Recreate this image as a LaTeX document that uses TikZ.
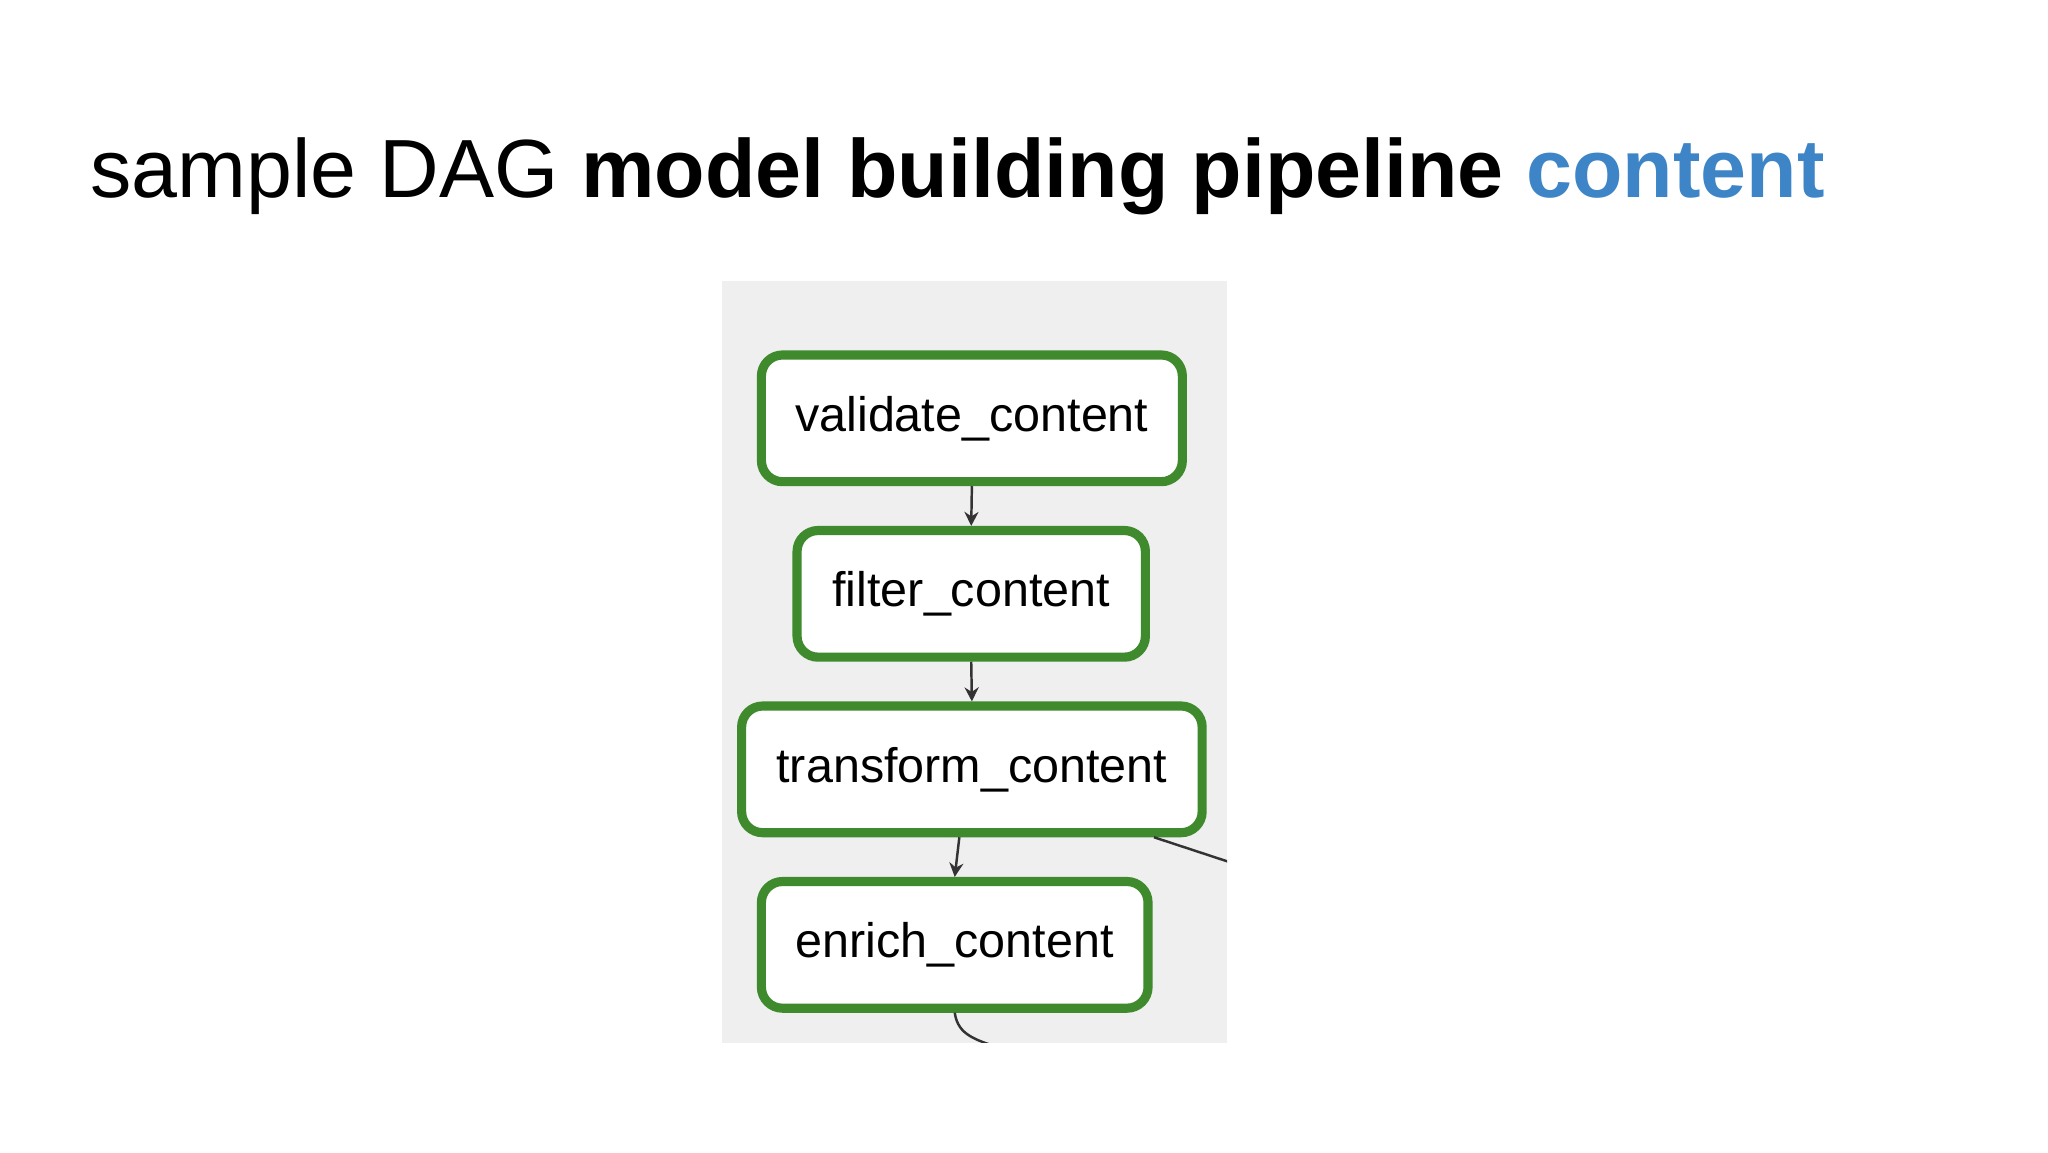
\documentclass[tikz,border=0pt]{standalone}
\usepackage{fontspec}
\setmainfont{Liberation Sans}
\usetikzlibrary{positioning,arrows.meta}
\definecolor{taskgreen}{HTML}{3E8A2C}
\definecolor{panelgray}{HTML}{EFEFEF}
\definecolor{titleblue}{HTML}{3D85C6}
\definecolor{edgegray}{HTML}{333333}
\tikzset{
  task/.style={draw=taskgreen, line width=2.6pt, rounded corners=6pt, fill=white,
    font=\fontsize{13.8}{16}\selectfont, inner sep=0pt},
  edge/.style={draw=edgegray, line width=0.7pt, -{Stealth[length=4pt,width=4pt]}}
}
\begin{document}
\begin{tikzpicture}[x=0.0132cm,y=-0.0132cm]
	\useasboundingbox[fill=white] (0,0) rectangle (1552,873);
	% title
	\node[anchor=base west, inner sep=0pt, font=\fontsize{23.5}{28}\selectfont] (title) at (68,150)
		{sample DAG \textbf{model building pipeline} \textcolor{titleblue}{\textbf{content}}};
	% panel
	\fill[panelgray] (547,213) rectangle (930,790);
	\begin{scope}
		\clip (547,213) rectangle (930,790);
		\node[task, minimum width=319*0.0132cm, minimum height=96*0.0132cm] (validate) at (736.5,317) {validate\_content};
		\node[task, minimum width=264*0.0132cm, minimum height=96*0.0132cm] (filter) at (736,450) {filter\_content};
		\node[task, minimum width=349*0.0132cm, minimum height=96*0.0132cm] (transform) at (736.5,583) {transform\_content};
		\node[task, minimum width=293*0.0132cm, minimum height=96*0.0132cm] (enrich) at (723.5,716) {enrich\_content};
		\coordinate (outright) at (940,656);
		\coordinate (outbottom) at (760,795);
		\draw[edge] (validate.south) -- (filter.north);
		\draw[edge] (filter.south) -- (transform.north);
		\draw[edge] ([xshift=-9.5*0.0132cm]transform.south) -- (enrich.north);
		\draw[edgegray, line width=0.7pt] ([xshift=138*0.0132cm]transform.south) -- (outright);
		\draw[edgegray, line width=0.7pt] (enrich.south) .. controls (726,785) and (740,788) .. (outbottom);
	\end{scope}
\end{tikzpicture}
\end{document}
